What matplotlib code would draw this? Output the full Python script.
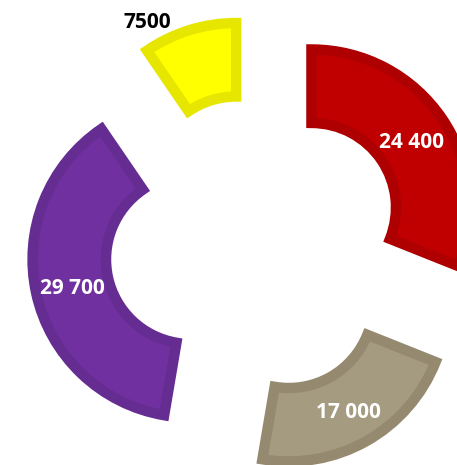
import numpy as np
import matplotlib.pyplot as plt

# slices, clockwise from 12 o'clock
values = [24400, 17000, 29700, 7500]
labels = ["24 400", "17 000", "29 700", "7500"]
fills = ["#C00000", "#A59B80", "#7030A0", "#FFFF00"]
edges = ["#AE0000", "#958A70", "#652C91", "#E6E600"]
label_colors = ["white", "white", "white", "black"]

fig = plt.figure(figsize=(4.57, 4.65), dpi=100)
ax = fig.add_axes([0, 0, 1, 1])

ring = 0.465
wedges, _ = ax.pie(values, radius=1, startangle=90, counterclock=False,
                   explode=[0.424] * len(values),
                   wedgeprops=dict(width=ring, linewidth=7.5, joinstyle='miter'))
for w, fc, ec in zip(wedges, fills, edges):
    w.set_facecolor(fc)
    w.set_edgecolor(ec)

# labels at the middle of each ring segment, the small one sits outside
for i, w in enumerate(wedges):
    mid = np.deg2rad((w.theta1 + w.theta2) / 2)
    cx, cy = w.center
    if i < 3:
        rr, ang = 1 - ring / 2, mid
    else:
        rr, ang = 1.165, mid + np.deg2rad(11.7)
    x = cx + rr * np.cos(ang)
    y = cy + rr * np.sin(ang)
    ax.annotate(labels[i], (x, y), xytext=(0, -2.2), textcoords='offset points',
                ha='center', va='center', fontsize=15, fontweight='bold',
                family='Open Sans', color=label_colors[i])

ax.set_xlim(-1.620, 1.272)
ax.set_ylim(-1.392, 1.551)
ax.set_aspect('equal')
ax.axis('off')

fig.savefig("out.png", dpi=100)
